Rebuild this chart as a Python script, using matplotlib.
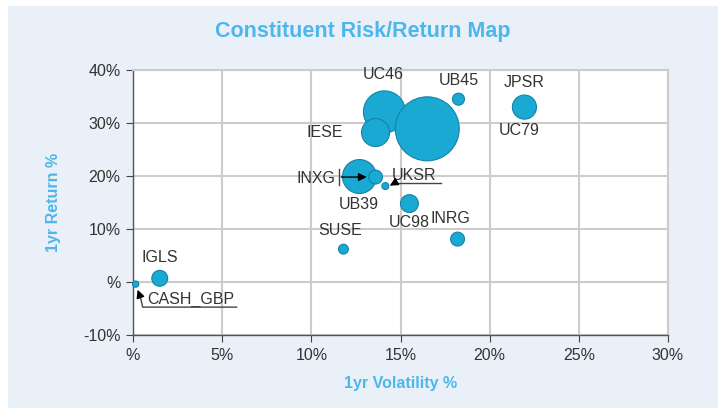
import matplotlib
matplotlib.use("Agg")
import matplotlib.pyplot as plt
from matplotlib.patches import Rectangle

# constituent data: volatility %, return %, weight % (bubble area)
names = ["UC46", "UC79", "IESE", "UB45", "JPSR", "UB39", "INXG", "UKSR",
         "UC98", "INRG", "SUSE", "IGLS", "CASH_GBP"]
volatility = [14.1, 16.5, 13.6, 18.25, 21.95, 12.7, 13.6, 14.15, 15.5, 18.2, 11.8, 1.5, 0.15]
returns = [32.1, 28.9, 28.2, 34.5, 33.0, 19.9, 19.8, 18.1, 14.8, 8.1, 6.2, 0.7, -0.4]
weights = [18.2, 42.3, 8.1, 1.5, 6.0, 11.9, 2.0, 0.5, 3.3, 2.0, 1.0, 2.6, 0.4]

x_ticks = [0, 5, 10, 15, 20, 25, 30]
x_labels = ["%", "5%", "10%", "15%", "20%", "25%", "30%"]
y_ticks = [-10, 0, 10, 20, 30, 40]
y_labels = ["-10%", "%", "10%", "20%", "30%", "40%"]

blue = "#1AA9D2"
edge = "#1383A8"
title_blue = "#4DB6EC"

plt.rcParams["font.family"] = ["Liberation Sans", "DejaVu Sans"]

fig = plt.figure(figsize=(7.25, 4.09), dpi=100)
fig.patches.append(Rectangle((8 / 725, 1 / 409), 710 / 725, 402 / 409, transform=fig.transFigure,
                             facecolor="#E9F0F7", edgecolor="none", zorder=-10))

ax = fig.add_axes([133 / 725, 1 - 335 / 409, 535 / 725, 265 / 409])
ax.set_zorder(1)
ax.set_xlim(0, 30)
ax.set_ylim(-10, 40)
ax.set_xticks(x_ticks, x_labels, fontsize=11.5, color="#333333")
ax.set_yticks(y_ticks, y_labels, fontsize=11.5, color="#333333")
ax.tick_params(direction="out", length=5, color="#444444", pad=4)
ax.grid(True, color="#CCCCCC", linewidth=1.5, zorder=0)
ax.set_axisbelow(True)
for s in ["top", "right"]:
    ax.spines[s].set_color("#CCCCCC")
    ax.spines[s].set_linewidth(1.5)
for s in ["left", "bottom"]:
    ax.spines[s].set_color("#555555")
    ax.spines[s].set_linewidth(1.0)

sizes = [w * 50.2 for w in weights]
ax.scatter(volatility, returns, s=sizes, color=blue, edgecolors=edge, linewidths=0.8,
           zorder=3, clip_on=False)

fig.text(0.5, 1 - 32 / 409, "Constituent Risk/Return Map", ha="center", va="center",
         fontsize=15.5, fontweight="bold", color=title_blue)
ax.set_xlabel("1yr Volatility %", fontsize=11.5, fontweight="bold", color=title_blue, labelpad=10)
ax.set_ylabel("1yr Return %", fontsize=11.5, fontweight="bold", color=title_blue, labelpad=16)

# label offsets in pixels (dx right, dy up) from each bubble
offsets = {"UC46": (-1, 37), "UC79": (92, -2), "IESE": (-51, 0), "UB45": (0, 19),
           "JPSR": (0, 25), "UB39": (-1, -28), "INXG": (-60, -1), "UKSR": (29, 11),
           "UC98": (0, -19), "INRG": (-7, 21), "SUSE": (-3, 19), "IGLS": (0, 21),
           "CASH_GBP": (55, -15)}
for n, x, y in zip(names, volatility, returns):
    dx, dy = offsets[n]
    ax.annotate(n, (x, y), xytext=(dx * 0.72, dy * 0.72), textcoords="offset points",
                ha="center", va="center", fontsize=11.5, color="#333333", zorder=5)

fig.canvas.draw()


def off(x, y, dx, dy):
    px, py = ax.transData.transform((x, y))
    return ax.transData.inverted().transform((px + dx, py + dy))


def leader(i, pts, arrow_from):
    # polyline through pixel offsets, then arrow to the bubble
    x, y = volatility[i], returns[i]
    data = [off(x, y, a, b) for a, b in pts]
    ax.plot([p[0] for p in data], [p[1] for p in data], color="#444444", lw=1.0, zorder=6,
            clip_on=False)
    ax.annotate("", xy=off(x, y, *arrow_from[1]), xytext=off(x, y, *arrow_from[0]),
                arrowprops=dict(arrowstyle="-|>", color="black", lw=1.0, mutation_scale=12),
                zorder=6)


i = names.index("INXG")
leader(i, [(-37, 8), (-37, -8)], [(-37, 0), (-6, 0)])
i = names.index("UKSR")
leader(i, [(9, 3), (56, 3)], [(9, 3), (2, -1)])
i = names.index("CASH_GBP")
leader(i, [(101, -23), (7, -23), (5, -14)], [(5, -14), (1, -3)])

fig.savefig("out.png", dpi=100)
